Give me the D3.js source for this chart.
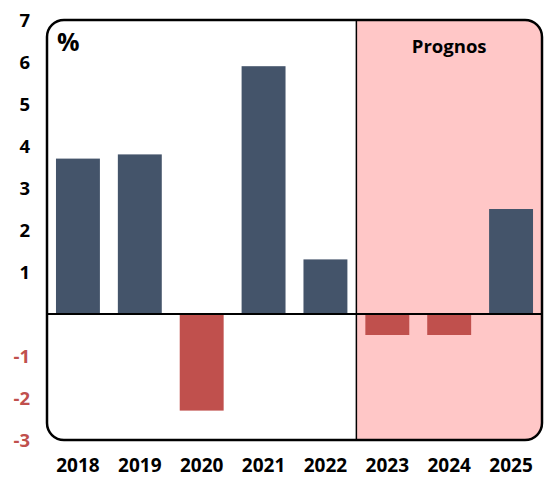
<!DOCTYPE html>
<html>
<head>
<meta charset="utf-8">
<script src="https://cdn.jsdelivr.net/npm/d3@7"></script>
<style>
  html, body { margin: 0; padding: 0; background: #fff; }
  svg { display: block; font-family: "Open Sans", Lato, sans-serif; }
</style>
</head>
<body>
<div id="chart"></div>
<script>
// data
const years = ["2018", "2019", "2020", "2021", "2022", "2023", "2024", "2025"];
const values = [3.7, 3.8, -2.3, 5.9, 1.3, -0.5, -0.5, 2.5];
const forecastYears = ["2023", "2024", "2025"];
const yTicks = [-3, -2, -1, 1, 2, 3, 4, 5, 6, 7];

const width = 544;
const height = 479;
const box = { left: 47, right: 542, top: 20, bottom: 440 };

const colors = {
  pos: "#44546A",
  neg: "#C0504D",
  forecast: "#FFC7C7",
  frame: "#000",
};

const svg = d3
  .select("#chart")
  .append("svg")
  .attr("width", width)
  .attr("height", height);

const x = d3
  .scaleBand()
  .domain(years)
  .range([box.left, box.right])
  .paddingInner(0.29)
  .paddingOuter(0.145);

const y = d3.scaleLinear().domain([-3, 7]).range([box.bottom, box.top]);

// clip for the rounded frame
svg
  .append("defs")
  .append("clipPath")
  .attr("id", "frame-clip")
  .append("rect")
  .attr("x", box.left)
  .attr("y", box.top)
  .attr("width", box.right - box.left)
  .attr("height", box.bottom - box.top)
  .attr("rx", 17);

const inner = svg.append("g").attr("clip-path", "url(#frame-clip)");

// forecast shading
const fStart = x(forecastYears[0]) - (x.step() * x.paddingInner()) / 2;
inner
  .append("rect")
  .attr("x", fStart)
  .attr("y", box.top)
  .attr("width", box.right - fStart)
  .attr("height", box.bottom - box.top)
  .attr("fill", colors.forecast);

// bars
inner
  .selectAll(".bar")
  .data(values)
  .join("rect")
  .attr("class", "bar")
  .attr("x", (d, i) => x(years[i]))
  .attr("width", x.bandwidth())
  .attr("y", (d) => (d >= 0 ? y(d) : y(0)))
  .attr("height", (d) => Math.abs(y(d) - y(0)))
  .attr("fill", (d) => (d >= 0 ? colors.pos : colors.neg));

// divider
inner
  .append("line")
  .attr("x1", fStart)
  .attr("x2", fStart)
  .attr("y1", box.top)
  .attr("y2", box.bottom)
  .attr("stroke", colors.frame)
  .attr("stroke-width", 1.5);

// zero line
inner
  .append("line")
  .attr("x1", box.left)
  .attr("x2", box.right)
  .attr("y1", y(0))
  .attr("y2", y(0))
  .attr("stroke", colors.frame)
  .attr("stroke-width", 2);

// frame
svg
  .append("rect")
  .attr("x", box.left)
  .attr("y", box.top)
  .attr("width", box.right - box.left)
  .attr("height", box.bottom - box.top)
  .attr("rx", 17)
  .attr("fill", "none")
  .attr("stroke", colors.frame)
  .attr("stroke-width", 2.5);

// y tick labels
svg
  .selectAll(".ylab")
  .data(yTicks)
  .join("text")
  .attr("class", "ylab")
  .attr("x", 30)
  .attr("y", (d) => y(d))
  .attr("dy", "0.36em")
  .attr("text-anchor", "end")
  .style("font-size", "18.5px")
  .style("font-weight", "bold")
  .attr("fill", (d) => (d < 0 ? colors.neg : "#000"))
  .text((d) => d);

// x labels
svg
  .selectAll(".xlab")
  .data(years)
  .join("text")
  .attr("class", "xlab")
  .attr("x", (d) => x(d) + x.bandwidth() / 2)
  .attr("y", 472)
  .attr("text-anchor", "middle")
  .style("font-size", "19px")
  .style("font-weight", "bold")
  .attr("fill", "#000")
  .text((d) => d);

// unit + forecast label
svg
  .append("text")
  .attr("x", 57)
  .attr("y", 51)
  .style("font-size", "25px")
  .style("font-weight", "bold")
  .text("%");

svg
  .append("text")
  .attr("x", (fStart + box.right) / 2)
  .attr("y", 53)
  .attr("text-anchor", "middle")
  .style("font-size", "18.5px")
  .style("font-weight", "bold")
  .text("Prognos");
</script>
</body>
</html>
